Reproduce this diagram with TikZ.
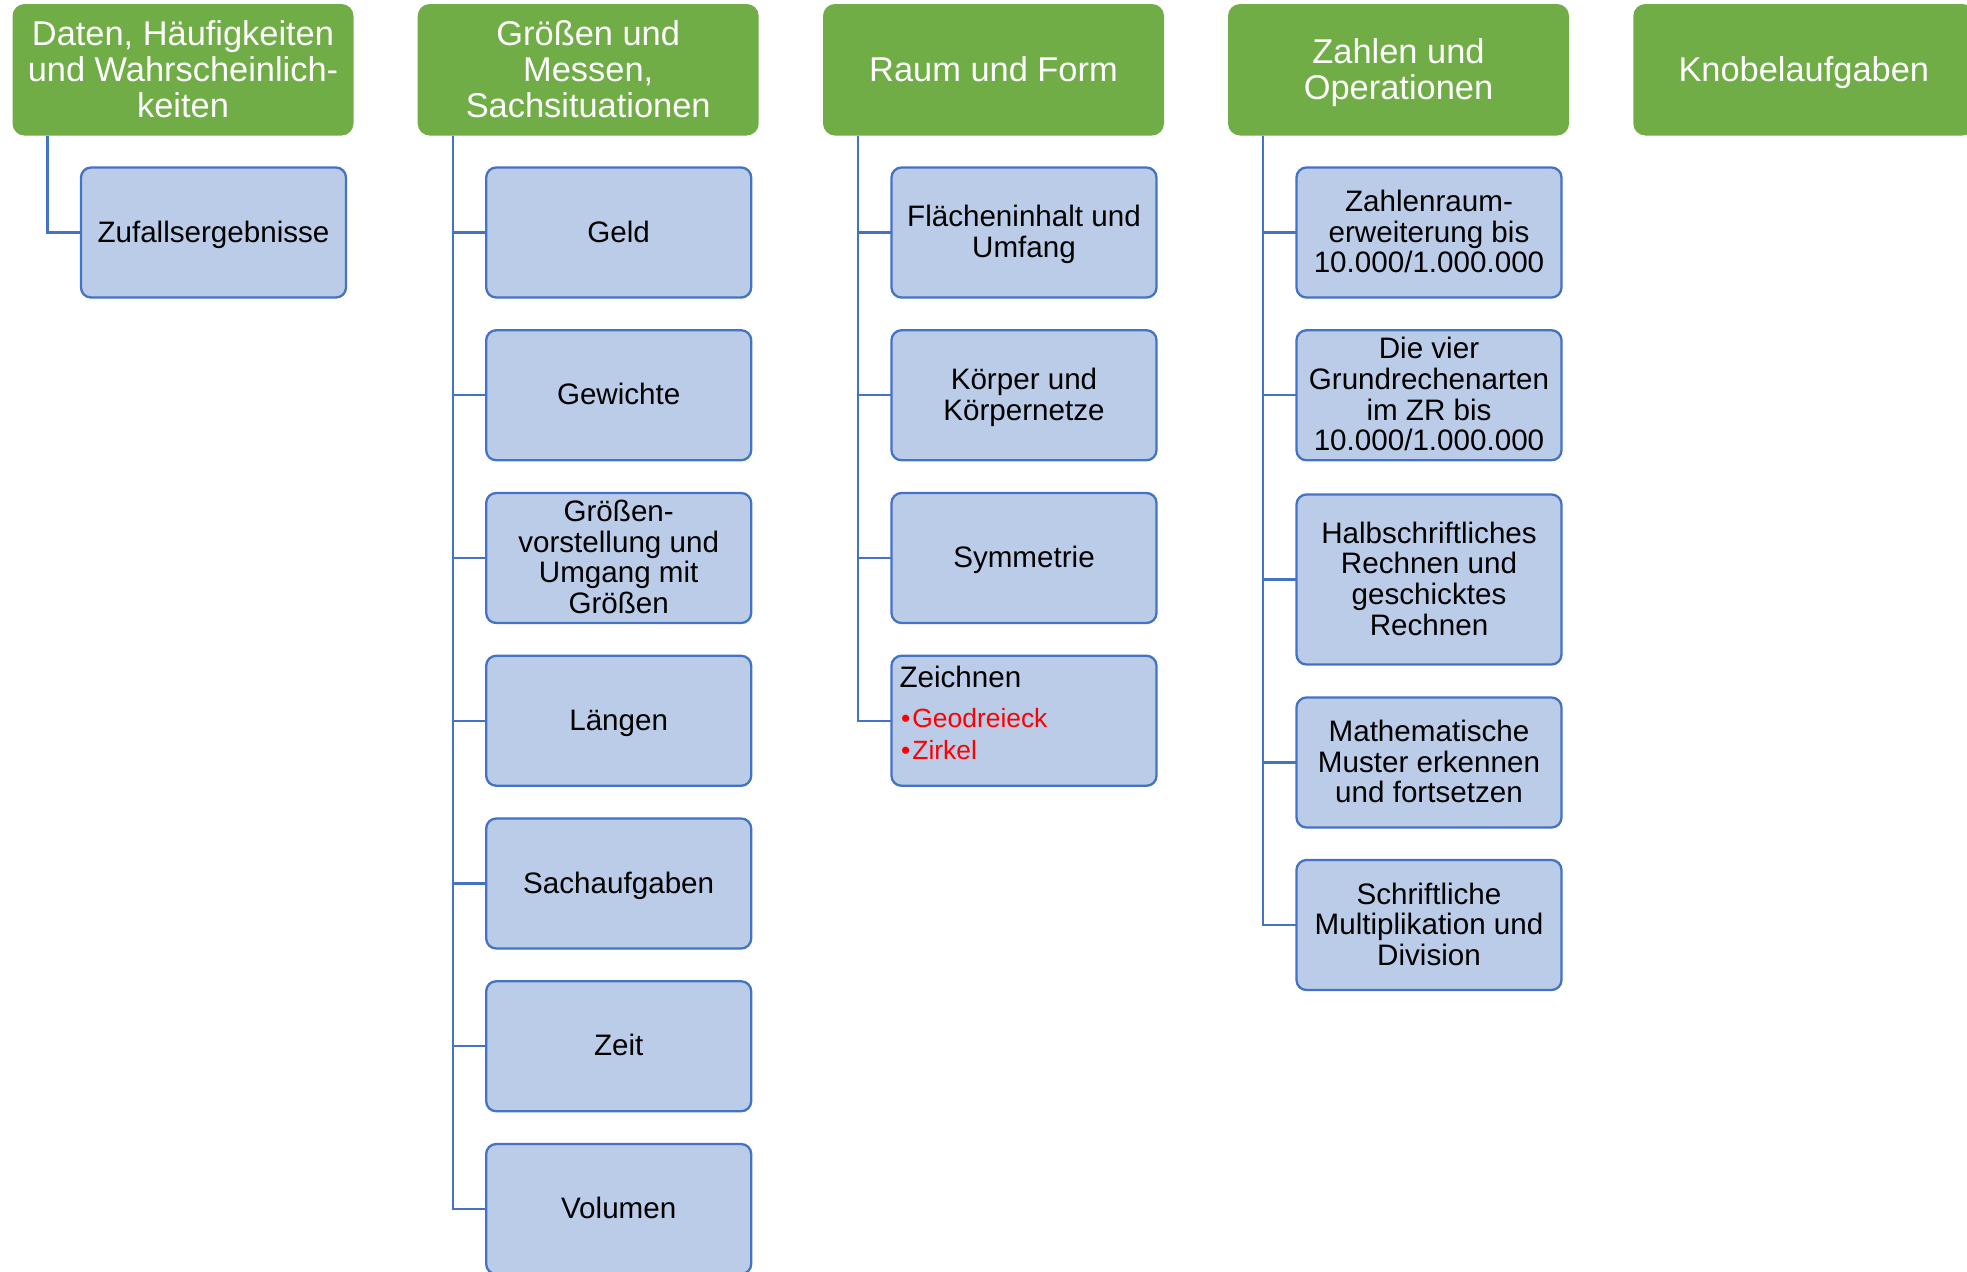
\documentclass[tikz,border=0pt]{standalone}
\usepackage{fontspec}
\setmainfont{Liberation Sans}
\definecolor{hgreen}{HTML}{70AD47}
\definecolor{bfill}{HTML}{BACCE8}
\definecolor{bline}{HTML}{4472C4}
\definecolor{bred}{HTML}{FF0000}
% struts placed inside the first and last line of each text
\newcommand{\hdtop}{\rule{0pt}{16.5pt}}
\newcommand{\hdbot}{\rule[-4.5pt]{0pt}{4.5pt}}
\newcommand{\ittop}{\rule{0pt}{13.6pt}}
\newcommand{\itbot}{\rule[-4pt]{0pt}{4pt}}
\begin{document}
\begin{tikzpicture}[x=0.5pt,y=-0.5pt,
 head/.style={fill=hgreen, draw=none, rounded corners=6pt, minimum width=170.5pt, minimum height=65.75pt,
   inner sep=0pt, outer sep=0pt, text=white, align=center, font=\fontsize{17.2}{17.9}\selectfont, anchor=north west},
 item/.style={fill=bfill, draw=bline, line width=1.15pt, rounded corners=5pt, minimum width=132.5pt, minimum height=65pt,
   inner sep=0pt, outer sep=0pt, align=center, font=\fontsize{14.8}{15.3}\selectfont, anchor=west},
 tallitem/.style={item, minimum height=85pt},
 conn/.style={draw=bline, line width=1.05pt},
 ztext/.style={inner sep=0pt, outer sep=0pt, anchor=west},
]
\useasboundingbox (0,0) rectangle (1967,1271);
\clip (0,0) rectangle (1967,1271);

% headers
\node[head] (h1) at (12.5,4) {\hdtop Daten, Häufigkeiten\\und Wahrscheinlich-\\keiten\hdbot};
\node[head] (h2) at (417.7,4) {\hdtop Größen und\\Messen,\\Sachsituationen\hdbot};
\node[head] (h3) at (823,4) {\hdtop Raum und Form\hdbot};
\node[head] (h4) at (1228,4) {\hdtop Zahlen und\\Operationen\hdbot};
\node[head] (h5) at (1633.3,4) {\hdtop Knobelaufgaben\hdbot};

% column 1
\node[item] (a1) at (81,232.5) {\ittop Zufallsergebnisse\itbot};

% column 2
\node[item] (b1) at (486.2,232.5) {\ittop Geld\itbot};
\node[item] (b2) at (486.2,395.25) {\ittop Gewichte\itbot};
\node[item] (b3) at (486.2,558) {\ittop Größen-\\vorstellung und\\Umgang mit\\Größen\itbot};
\node[item] (b4) at (486.2,720.75) {\ittop Längen\itbot};
\node[item] (b5) at (486.2,883.5) {\ittop Sachaufgaben\itbot};
\node[item] (b6) at (486.2,1046.25) {\ittop Zeit\itbot};
\node[item] (b7) at (486.2,1209) {\ittop Volumen\itbot};

% column 3
\node[item] (c1) at (891.5,232.5) {\ittop Flächeninhalt und\\Umfang\itbot};
\node[item] (c2) at (891.5,395.25) {\ittop Körper und\\Körpernetze\itbot};
\node[item] (c3) at (891.5,558) {\ittop Symmetrie\itbot};
\node[item] (c4) at (891.5,720.75) {};
\node[ztext, font=\fontsize{14.8}{15.2}\selectfont] (c4t) at ([xshift=4pt,yshift=-10.7pt]c4.north west) {Zeichnen};
\node[ztext, font=\fontsize{13.2}{14}\selectfont, text=bred] (c4g) at ([xshift=4.8pt,yshift=-31pt]c4.north west) {•\kern0.08em Geodreieck};
\node[ztext, font=\fontsize{13.2}{14}\selectfont, text=bred] (c4z) at ([xshift=4.8pt,yshift=-47pt]c4.north west) {•\kern0.08em Zirkel};

% column 4
\node[item] (d1) at (1296.5,232.5) {\ittop Zahlenraum-\\erweiterung bis\\10.000/1.000.000\itbot};
\node[item] (d2) at (1296.5,395.25) {\ittop Die vier\\Grundrechenarten\\im ZR bis\\10.000/1.000.000\itbot};
\node[tallitem] (d3) at (1296.5,579.5) {\ittop Halbschriftliches\\Rechnen und\\geschicktes\\Rechnen\itbot};
\node[item] (d4) at (1296.5,762.5) {\ittop Mathematische\\Muster erkennen\\und fortsetzen\itbot};
\node[item] (d5) at (1296.5,925) {\ittop Schriftliche\\Multiplikation und\\Division\itbot};

% connectors
\draw[conn] ([xshift=17.5pt]h1.south west) |- (a1.west);
\foreach \n in {b1,b2,b3,b4,b5,b6,b7} {\draw[conn] ([xshift=17.5pt]h2.south west) |- (\n.west);}
\foreach \n in {c1,c2,c3,c4} {\draw[conn] ([xshift=17.5pt]h3.south west) |- (\n.west);}
\foreach \n in {d1,d2,d3,d4,d5} {\draw[conn] ([xshift=17.5pt]h4.south west) |- (\n.west);}
\end{tikzpicture}
\end{document}
